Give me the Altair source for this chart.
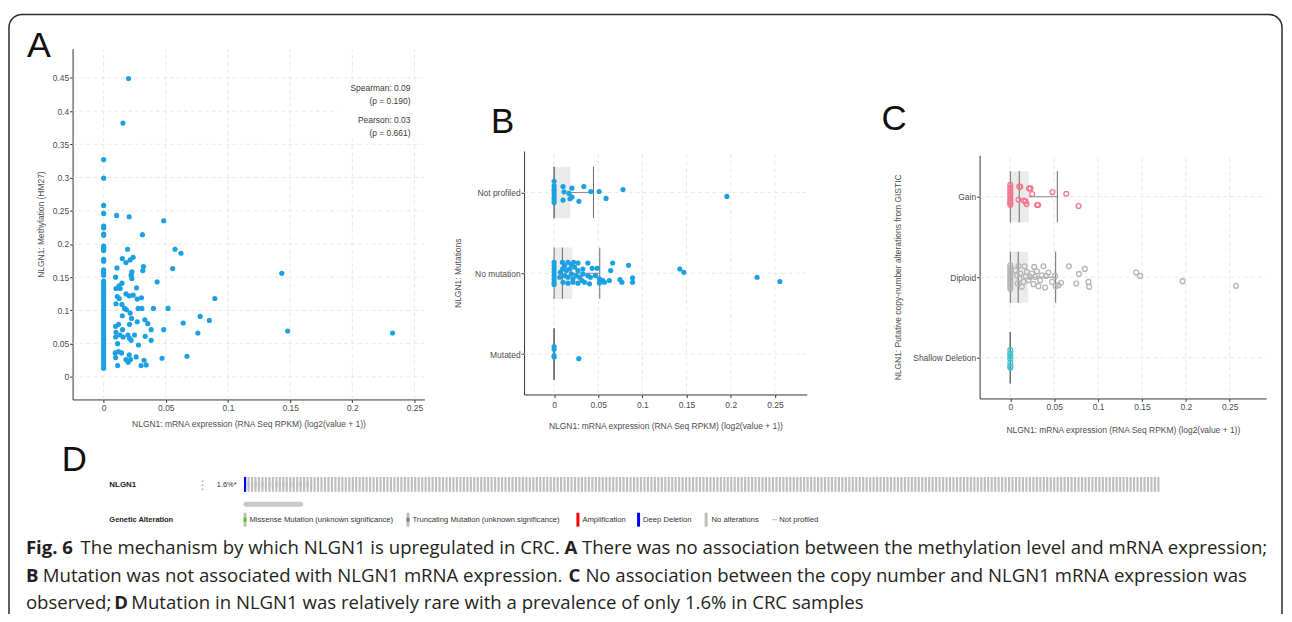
import altair as alt
import pandas as pd

W, H = 1284, 606
SANS = "Liberation Sans, Arial, sans-serif"
CAPF = "Open Sans, sans-serif"
GRID = "#e2e2e2"
BLUE = "#1ba1e2"
TXT = "#4d4d4d"

# ---------------- Panel A data ----------------
A_ZERO_Y = [0.327, 0.299, 0.258, 0.246, 0.227, 0.224, 0.215, 0.213, 0.197, 0.195,
            0.192, 0.190, 0.177, 0.174, 0.161, 0.157, 0.153, 0.144, 0.141, 0.137,
            0.133, 0.129, 0.126, 0.122, 0.118, 0.115, 0.111, 0.107, 0.103, 0.100,
            0.096, 0.092, 0.088, 0.085, 0.081, 0.077, 0.073, 0.070, 0.066, 0.062,
            0.058, 0.055, 0.051, 0.047, 0.043, 0.040, 0.036, 0.032, 0.028, 0.025,
            0.021, 0.017, 0.013]
A_X = [0.020, 0.0155, 0.0104, 0.0205, 0.0483, 0.0312, 0.0192, 0.0574, 0.0622, 0.015,
       0.0237, 0.0213, 0.0179, 0.0107, 0.032, 0.0315, 0.0227, 0.0555, 0.1433, 0.0221,
       0.0096, 0.0227, 0.043, 0.0147, 0.0123, 0.0099, 0.0133, 0.0264, 0.0179, 0.0109,
       0.0205, 0.0237, 0.0125, 0.027, 0.0304, 0.0894, 0.0099, 0.0147, 0.0168, 0.0184,
       0.0277, 0.0307, 0.040, 0.0518, 0.0213, 0.015, 0.0776, 0.0224, 0.0331, 0.085,
       0.027, 0.0355, 0.064, 0.012, 0.0208, 0.0096, 0.0382, 0.0483, 0.0152, 0.0099,
       0.148, 0.2324, 0.0758, 0.0131, 0.0195, 0.0248, 0.0334, 0.0096, 0.0157, 0.0208,
       0.0221, 0.0382, 0.0112, 0.028, 0.012, 0.0093, 0.0144, 0.0205, 0.067, 0.0096,
       0.0261, 0.047, 0.0325, 0.0179, 0.0216, 0.0197, 0.0112, 0.0301, 0.0342]
A_Y = [0.449, 0.382, 0.243, 0.241, 0.235, 0.214, 0.192, 0.192, 0.186, 0.178,
       0.180, 0.176, 0.172, 0.164, 0.166, 0.160, 0.158, 0.163, 0.156, 0.153,
       0.150, 0.148, 0.143, 0.141, 0.137, 0.133, 0.133, 0.134, 0.125, 0.121,
       0.122, 0.123, 0.118, 0.117, 0.119, 0.118, 0.110, 0.109, 0.103, 0.101,
       0.103, 0.103, 0.103, 0.103, 0.096, 0.092, 0.091, 0.088, 0.086, 0.085,
       0.083, 0.080, 0.081, 0.079, 0.079, 0.076, 0.071, 0.071, 0.071, 0.067,
       0.069, 0.066, 0.066, 0.063, 0.063, 0.063, 0.061, 0.060, 0.060, 0.058,
       0.055, 0.055, 0.050, 0.048, 0.038, 0.036, 0.036, 0.033, 0.031, 0.029,
       0.030, 0.028, 0.025, 0.026, 0.026, 0.022, 0.017, 0.017, 0.018]
A_XT = [0, 0.05, 0.1, 0.15, 0.2, 0.25]
A_YT = [0, 0.05, 0.1, 0.15, 0.2, 0.25, 0.3, 0.35, 0.4, 0.45]
A_XDOM = [-0.025, 0.258]
A_YDOM = [-0.034, 0.494]
A_STATS = ["Spearman: 0.09", "(p = 0.190)", "Pearson: 0.03", "(p = 0.661)"]

# ---------------- Panel B data ----------------
B_CATS = ["Mutated", "No mutation", "Not profiled"]
B_NP_X = [0, 0, 0, 0, 0, 0, 0, 0,
          0.0101, 0.0112, 0.0202, 0.0337, 0.0169, 0.0202, 0.018, 0.0101, 0.0281, 0.0416,
          0.051, 0.0588, 0.078, 0.1956]
B_NP_J = [0.139, 0.082, 0.041, 0.012, -0.02, -0.061, -0.094, -0.123,
          0.074, 0.008, 0.053, 0.074, -0.012, -0.057, -0.078, -0.094, -0.11, 0.012,
          0.012, -0.074, 0.037, -0.049]
B_NM_X = [0, 0, 0, 0, 0, 0, 0, 0,
          0.0094, 0.012, 0.0157, 0.0195, 0.0221, 0.027, 0.0382, 0.0431, 0.0487, 0.0663,
          0.0843, 0.0641, 0.0094, 0.0139, 0.0176, 0.0232, 0.027, 0.0326, 0.0195, 0.0251,
          0.012, 0.0157, 0.0214, 0.0289, 0.0326, 0.0382, 0.0469, 0.0513, 0.0551, 0.057,
          0.0626, 0.0101, 0.0157, 0.0214, 0.027, 0.0345, 0.0401, 0.0513, 0.0746, 0.0768,
          0.0888, 0.0888, 0.1424, 0.1469, 0.2298, 0.2556, 0.0064, 0.0071, 0.0315, 0.0412]
B_NM_J = [0.135, 0.094, 0.053, 0.012, -0.029, -0.070, -0.111, -0.139,
          0.135, 0.094, 0.135, 0.107, 0.135, 0.127, 0.127, 0.061, 0.061, 0.127,
          0.098, 0.033, 0.053, 0.033, 0.053, 0.074, 0.033, 0.053, -0.008, -0.029,
          -0.029, -0.049, -0.07, -0.049, -0.008, -0.029, -0.029, -0.07, -0.09, -0.111,
          -0.09, -0.111, -0.123, -0.111, -0.123, -0.111, -0.131, -0.119, -0.078, -0.111,
          -0.057, -0.111, 0.053, 0.012, -0.049, -0.102, -0.049, 0.012, -0.09, -0.049]
B_MU_X = [0, 0, 0, 0, 0.028]
B_MU_J = [0.094, 0.06, -0.02, -0.037, -0.057]
# box stats per category (min, q1, median, q3, upper whisker)
B_LO = [0, 0, 0]
B_Q1 = [0, 0, 0]
B_MED = [0, 0.0094, 0]
B_Q3 = [0, 0.0206, 0.0184]
B_HI = [0, 0.0517, 0.0446]

# ---------------- Panel C data ----------------
C_CATS = ["Shallow Deletion", "Diploid", "Gain"]
C_COLORS = ["#3cc6d4", "#b5b5b5", "#f5758c"]
C_GA_X = [0, 0, 0, 0, 0, 0, 0, 0, 0,
          0.0102, 0.0215, 0.023, 0.0249, 0.048, 0.0638, 0.0094, 0.0155, 0.0174, 0.0185,
          0.0306, 0.0317, 0.0778, 0.0113]
C_GA_J = [0.148, 0.115, 0.082, 0.049, 0.016, -0.016, -0.049, -0.074, -0.099,
          0.128, 0.103, 0.103, 0.033, 0.058, 0.037, -0.037, -0.049, -0.058, -0.091,
          -0.103, -0.103, -0.115, 0.123]
C_DI_X = [0, 0, 0, 0, 0, 0, 0, 0, 0, 0,
          0.0094, 0.0162, 0.0272, 0.0378, 0.0434, 0.051, 0.0408, 0.0302, 0.0245, 0.0189,
          0.0113, 0.0106, 0.0151, 0.0208, 0.0264, 0.0321, 0.0397, 0.0517, 0.0578, 0.0548,
          0.0476, 0.034, 0.0227, 0.0132, 0.0083, 0.0177, 0.0283, 0.0359, 0.0057, 0.0076,
          0.0668, 0.085, 0.0782, 0.0752, 0.0891, 0.0899, 0.1435, 0.148, 0.1964, 0.2572]
C_DI_J = [0.148, 0.115, 0.082, 0.049, 0.016, -0.016, -0.049, -0.082, -0.115, -0.144,
          0.14, 0.136, 0.128, 0.136, 0.058, 0.016, 0.016, 0.074, 0.045, 0.066,
          0.045, -0.016, -0.058, -0.037, -0.086, -0.111, -0.128, -0.111, -0.07, -0.099,
          -0.058, -0.037, 0.004, -0.119, -0.078, 0.012, 0.004, 0.025, 0.086, 0.025,
          0.136, 0.103, 0.041, -0.078, -0.058, -0.119, 0.058, 0.016, -0.049, -0.107]
C_SD_X = [0, 0, 0, 0, 0, 0, 0]
C_SD_J = [0.095, 0.053, 0.021, -0.012, -0.062, -0.103, -0.123]
C_LO = [0, 0, 0]
C_Q1 = [0, 0, 0]
C_MED = [0, 0.009, 0.0102]
C_Q3 = [0, 0.0204, 0.0211]
C_HI = [0, 0.0517, 0.0536]

# ---------------- Panel D data ----------------
D_KINDS = ["deep", "trunc", "missense", "none"]
D_COUNTS = [1, 4, 15, 244]
D_COLORS = {"deep": "#0000ff", "trunc": "#708090", "missense": "#53d400",
            "amp": "#ff0000", "none": "#bebebe"}
D_LEGEND = ["Missense Mutation (unknown significance)", "Truncating Mutation (unknown significance)",
            "Amplification", "Deep Deletion", "No alterations", "Not profiled"]

CAPTION = [
    [("Fig. 6", "bold"), ("The mechanism by which NLGN1 is upregulated in CRC.", "normal"), ("A", "bold"),
     ("There was no association between the methylation level and mRNA expression;", "normal")],
    [("B", "bold"), ("Mutation was not associated with NLGN1 mRNA expression.", "normal"), ("C", "bold"),
     ("No association between the copy number and NLGN1 mRNA expression was", "normal")],
    [("observed;", "normal"), ("D", "bold"),
     ("Mutation in NLGN1 was relatively rare with a prevalence of only 1.6% in CRC samples", "normal")],
]

# ---------------- helpers ----------------
ONE = pd.DataFrame({"k": [0]})
AXS = dict(labelFont=SANS, labelFontSize=8.5, labelColor=TXT, titleFont=SANS, titleFontSize=8.5,
           titleColor=TXT, titleFontWeight="normal", tickColor="#333333", tickSize=3, tickWidth=1,
           domainColor="#333333", domainWidth=1, grid=False, labelOverlap=False)


def vtext(s, x, y, size, weight="normal", align="left", color="#333333", font=SANS, baseline="middle"):
    return alt.Chart(ONE).mark_text(text=s, fontSize=size, fontWeight=weight, align=align, color=color,
                                    font=font, baseline=baseline).encode(x=alt.value(x), y=alt.value(y))


def vrect(x, x2, y, y2, color, **kw):
    return alt.Chart(ONE).mark_rect(color=color, **kw).encode(
        x=alt.value(x), x2=alt.value(x2), y=alt.value(y), y2=alt.value(y2))


def cat_expr(cats):
    return "[" + ",".join("'" + c + "'" for c in cats) + "]"


def grid_layers(xt, yt, xdom, ydom, sx, sy, ax, ay):
    gx = alt.Chart(pd.DataFrame({"v": xt, "lo": ydom[0], "hi": ydom[1]})).mark_rule(
        color=GRID, strokeWidth=0.8, strokeDash=[4, 3]).encode(
        x=alt.X("v:Q", scale=sx, axis=ax), y=alt.Y("lo:Q", scale=sy, axis=ay), y2="hi:Q")
    gy = alt.Chart(pd.DataFrame({"v": yt, "lo": xdom[0], "hi": xdom[1]})).mark_rule(
        color=GRID, strokeWidth=0.8, strokeDash=[4, 3]).encode(
        y=alt.Y("v:Q", scale=sy, axis=ay), x=alt.X("lo:Q", scale=sx, axis=ax), x2="hi:Q")
    return [gx, gy]


def box_layers(cats, lo, q1, med, q3, hi, sx, sy, ax, ay):
    df = pd.DataFrame({"cat": cats, "lo": lo, "q1": q1, "med": med, "q3": q3, "hi": hi})
    base = alt.Chart(df).transform_calculate(
        pos=f"indexof({cat_expr(cats)}, datum.cat) + 1",
        bot=f"indexof({cat_expr(cats)}, datum.cat) + 1 - 0.318",
        top=f"indexof({cat_expr(cats)}, datum.cat) + 1 + 0.318")
    box = base.mark_rect(color="#ebebeb").encode(
        x=alt.X("q1:Q", scale=sx, axis=ax), x2="q3:Q", y=alt.Y("bot:Q", scale=sy, axis=ay), y2="top:Q")
    out = [box]
    for f in ["lo", "med", "hi"]:
        out.append(base.mark_rule(color="#6a6a6a", strokeWidth=1).encode(
            x=alt.X(f + ":Q", scale=sx, axis=ax), y=alt.Y("bot:Q", scale=sy, axis=ay), y2="top:Q"))
    out.append(base.mark_rule(color="#8a8a8a", strokeWidth=1).encode(
        x=alt.X("q3:Q", scale=sx, axis=ax), x2="hi:Q", y=alt.Y("pos:Q", scale=sy, axis=ay)))
    return out


# ---------------- Panel A ----------------
sxA = alt.Scale(domain=A_XDOM, range=[65, 419], nice=False, zero=False)
syA = alt.Scale(domain=A_YDOM, range=[392, 39], nice=False, zero=False)
XTITLE = "NLGN1: mRNA expression (RNA Seq RPKM) (log2(value + 1))"
axAx = alt.Axis(orient="bottom", offset=392 - H, values=A_XT, format="~g", title=XTITLE,
                labelPadding=1, titlePadding=8, **AXS)
axAy = alt.Axis(orient="left", offset=-65, values=A_YT, format="~g", title="NLGN1: Methylation (HM27)",
                labelPadding=1, titlePadding=7, **AXS)
dfA = pd.DataFrame({"x": [0] * len(A_ZERO_Y) + A_X, "y": A_ZERO_Y + A_Y})
ptsA = alt.Chart(dfA).mark_circle(size=27, opacity=1, color=BLUE).encode(
    x=alt.X("x:Q", scale=sxA, axis=axAx), y=alt.Y("y:Q", scale=syA, axis=axAy))
panelA = alt.layer(*grid_layers(A_XT, A_YT, A_XDOM, A_YDOM, sxA, syA, axAx, axAy), ptsA)

# ---------------- Panel B ----------------
sxB = alt.Scale(domain=[-0.034, 0.286], range=[519.3, 803.7], nice=False, zero=False)
syB = alt.Scale(domain=[0.5, 3.513], range=[387, 142], nice=False, zero=False)
axBx = alt.Axis(orient="bottom", offset=387 - H, values=A_XT, format="~g", title=XTITLE,
                labelPadding=3, titlePadding=13, **AXS)
axBy = alt.Axis(orient="left", offset=-519.3, values=[1, 2, 3], labelExpr=f"{cat_expr(B_CATS)}[datum.value - 1]",
                title="NLGN1: Mutations", labelPadding=1, titlePadding=12, **AXS)
dfB = pd.DataFrame({
    "cat": ["Not profiled"] * len(B_NP_X) + ["No mutation"] * len(B_NM_X) + ["Mutated"] * len(B_MU_X),
    "x": B_NP_X + B_NM_X + B_MU_X, "j": B_NP_J + B_NM_J + B_MU_J})
ptsB = alt.Chart(dfB).transform_calculate(
    pos=f"indexof({cat_expr(B_CATS)}, datum.cat) + 1 + datum.j").mark_circle(
    size=27, opacity=1, color=BLUE).encode(
    x=alt.X("x:Q", scale=sxB, axis=axBx), y=alt.Y("pos:Q", scale=syB, axis=axBy))
panelB = alt.layer(*grid_layers(A_XT, [1, 2, 3], [-0.034, 0.286], [0.5, 3.513], sxB, syB, axBx, axBy),
                   *box_layers(B_CATS, B_LO, B_Q1, B_MED, B_Q3, B_HI, sxB, syB, axBx, axBy), ptsB)

# ---------------- Panel C ----------------
sxC = alt.Scale(domain=[-0.035, 0.2916], range=[977.7, 1266], nice=False, zero=False)
syC = alt.Scale(domain=[0.494, 3.515], range=[391, 146.3], nice=False, zero=False)
axCx = alt.Axis(orient="bottom", offset=391 - H, values=A_XT, format="~g", title=XTITLE,
                labelPadding=1, titlePadding=15, **AXS)
axCy = alt.Axis(orient="left", offset=-977.7, values=[1, 2, 3], labelExpr=f"{cat_expr(C_CATS)}[datum.value - 1]",
                title="NLGN1: Putative copy-number alterations from GISTIC", labelPadding=1, titlePadding=10, **AXS)
dfC = pd.DataFrame({
    "cat": ["Gain"] * len(C_GA_X) + ["Diploid"] * len(C_DI_X) + ["Shallow Deletion"] * len(C_SD_X),
    "x": C_GA_X + C_DI_X + C_SD_X, "j": C_GA_J + C_DI_J + C_SD_J})
ptsC = alt.Chart(dfC).transform_calculate(
    pos=f"indexof({cat_expr(C_CATS)}, datum.cat) + 1 + datum.j").mark_point(
    shape="circle", filled=False, size=24, strokeWidth=1.3, opacity=1).encode(
    x=alt.X("x:Q", scale=sxC, axis=axCx), y=alt.Y("pos:Q", scale=syC, axis=axCy),
    color=alt.Color("cat:N", scale=alt.Scale(domain=C_CATS, range=C_COLORS), legend=None))
panelC = alt.layer(*grid_layers(A_XT, [1, 2, 3], [-0.035, 0.2916], [0.494, 3.515], sxC, syC, axCx, axCy),
                   *box_layers(C_CATS, C_LO, C_Q1, C_MED, C_Q3, C_HI, sxC, syC, axCx, axCy), ptsC)

# ---------------- Panel D ----------------
kinds = []
for k, n in zip(D_KINDS, D_COUNTS):
    kinds += [k] * n
N = len(kinds)
dfD = pd.DataFrame({"i": list(range(N)), "kind": kinds})
sxD = alt.Scale(domain=[0, N], range=[237.5, 1160], nice=False, zero=False)
stripBg = alt.Chart(dfD).transform_calculate(i2="datum.i + 0.62").mark_rect().encode(
    x=alt.X("i:Q", scale=sxD, axis=None), x2="i2:Q", y=alt.value(470), y2=alt.value(485),
    color=alt.Color("kind:N", scale=alt.Scale(domain=D_KINDS,
                                              range=[D_COLORS["deep"], D_COLORS["none"], D_COLORS["none"], D_COLORS["none"]]),
                    legend=None))
stripMut = alt.Chart(dfD).transform_filter(
    "datum.kind == 'trunc' || datum.kind == 'missense'").transform_calculate(i2="datum.i + 0.62").mark_rect().encode(
    x=alt.X("i:Q", scale=sxD, axis=None), x2="i2:Q", y=alt.value(475), y2=alt.value(480),
    color=alt.Color("kind:N", scale=alt.Scale(domain=["trunc", "missense"],
                                              range=[D_COLORS["trunc"], D_COLORS["missense"]]), legend=None))
panelD = alt.layer(stripBg, stripMut)

decor = [
    # outer rounded frame
    alt.Chart(ONE).mark_rect(cornerRadius=13, fillOpacity=0, stroke="#2a2a2a", strokeWidth=1.5).encode(
        x=alt.value(1), x2=alt.value(1282), y=alt.value(4.7), y2=alt.value(660)),
    # white box behind correlation stats
    vrect(332, 419, 74, 129, "white"),
    vtext("A", 19, 47, 36, baseline="alphabetic", color="#111111"),
    vtext("B", 486, 124, 35, baseline="alphabetic", color="#111111"),
    vtext("C", 879, 121, 35, baseline="alphabetic", color="#111111"),
    vtext("D", 54, 464, 35, baseline="alphabetic", color="#111111"),
    vtext(A_STATS[0], 405, 79, 8.5, align="right", color="#3a3a3a"),
    vtext(A_STATS[1], 405, 92, 8.5, align="right", color="#3a3a3a"),
    vtext(A_STATS[2], 405, 111, 8.5, align="right", color="#3a3a3a"),
    vtext(A_STATS[3], 405, 124, 8.5, align="right", color="#3a3a3a"),
    # oncoprint labels
    vtext("NLGN1", 102, 478, 8, weight="bold", color="#222222"),
    vtext("\u22ee", 190, 478, 12, color="#9a9a9a", font="DejaVu Sans"),
    vtext("1.6%*", 210, 478, 7.5, color="#333333"),
    vrect(237, 297, 495, 500, "#c8c8c8", cornerRadius=2.5),
    vtext("Genetic Alteration", 102, 513, 7.5, weight="bold", color="#222222"),
    # legend markers
    vrect(237, 240, 506, 520, D_COLORS["none"]), vrect(237, 240, 511, 515, D_COLORS["missense"]),
    vrect(401, 404, 506, 520, D_COLORS["none"]), vrect(401, 404, 511, 515, D_COLORS["trunc"]),
    vrect(572, 575, 506, 520, D_COLORS["amp"]),
    vrect(633, 636, 506, 520, D_COLORS["deep"]),
    vrect(701, 704, 506, 520, D_COLORS["none"]),
    vrect(769, 774, 512.5, 513.5, "#bbbbbb"),
    vtext(D_LEGEND[0], 243, 513, 7.7),
    vtext(D_LEGEND[1], 407, 513, 7.7),
    vtext(D_LEGEND[2], 578, 513, 7.7),
    vtext(D_LEGEND[3], 639, 513, 7.7),
    vtext(D_LEGEND[4], 708, 513, 7.7),
    vtext(D_LEGEND[5], 776, 513, 7.7),
]

CAP_X = [[18, 73, 560, 577.5], [18, 35, 564, 581], [18, 107, 124]]
CAP_Y = [548, 576, 603]
for li, line in enumerate(CAPTION):
    for (s, wgt), x in zip(line, CAP_X[li]):
        decor.append(vtext(s, x, CAP_Y[li], 18.7, weight=wgt, color="#231f20", font=CAPF, baseline="alphabetic"))

chart = alt.layer(panelA, panelB, panelC, panelD, *decor).resolve_scale(
    x="independent", y="independent", color="independent").properties(
    width=W, height=H, padding=0, autosize=alt.AutoSizeParams(type="none")).configure_view(strokeWidth=0)

chart.save("out.html", embed_options={"renderer": "svg", "actions": False})
